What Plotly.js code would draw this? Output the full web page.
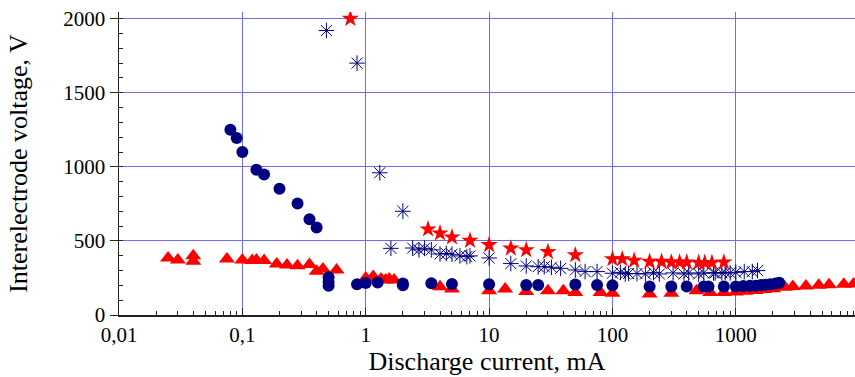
<!DOCTYPE html>
<html>
<head>
<meta charset="utf-8">
<script src="https://cdn.plot.ly/plotly-3.0.1.min.js"></script>
<style>html,body{margin:0;padding:0;background:#fff;}#chart{width:855px;height:377px;}</style>
</head>
<body>
<div id="chart"></div>
<script>
// Red triangles
const triX = [0.025,0.03,0.04,0.04,0.075,0.1,0.12,0.13,0.15,0.19,0.23,0.28,0.35,0.4,0.45,0.58,1.0,1.15,1.33,1.45,1.55,1.7,4,5,10,13.5,20,30,40,50,80,100,200,300,480,620,800,1000,1200,1450,1700,2000,2500,2900,3700,4700,5700,7500,9000];
const triY = [385,372,400,362,378,371,367,371,367,344,337,333,340,295,310,304,250,260,243,236,243,236,190,175,163,175,158,163,163,152,152,146,142,146,163,152,152,155,160,166,172,178,188,192,196,200,204,207,210];
// Navy circles
const cirX = [0.08,0.09,0.1,0.13,0.15,0.2,0.28,0.35,0.4,0.5,0.5,0.5,0.85,1.0,1.25,2,2,3.4,5,10,20,25,50,75,100,200,300,400,550,600,800,1000,1150,1300,1450,1600,1750,1900,2100,2250];
const cirY = [1250,1195,1100,980,948,852,752,646,590,255,222,198,207,216,220,213,200,214,209,207,203,203,206,203,200,193,192,192,192,192,192,193,195,197,198,202,205,208,213,218];
// Navy asterisks
const astX = [0.48,0.85,1.3,2,1.6,2.4,2.7,3,3.4,4,4.5,5,5.8,6.6,7,10,15,20,25,28,32,38,50,60,75,100,116,127,135,158,185,215,240,310,380,415,500,550,660,680,770,820,900,1000,1170,1360,1500];
const astY = [1920,1700,960,700,450,452,440,450,440,412,415,410,399,394,399,385,347,331,326,326,322,315,304,293,293,282,288,277,280,280,277,286,277,284,277,284,277,284,284,284,284,286,284,288,293,293,300];
// Red stars
const starX = [0.75,3.2,4,5,7,10,15,20,30,50,100,120,150,200,250,300,350,400,500,560,640,800];
const starY = [2000,579,552,525,502,473,450,439,426,405,378,378,367,360,360,356,356,356,353,353,353,356];
// Tick labels
const xTickVals = [0.01,0.1,1,10,100,1000];
const xTickText = ['0,01','0,1','1','10','100','1000'];
const yTickVals = [0,500,1000,1500,2000];
const yTickText = ['0','500','1000','1500','2000'];

const minorX = [];
for (let d = -2; d <= 3; d++) {
  for (let k = 2; k <= 9; k++) minorX.push(k * Math.pow(10, d));
}

const FONT = '"Liberation Serif", "Times New Roman", serif';
const NAVY = '#000080';
const RED = '#ff0000';

const traces = [
  {x: triX, y: triY, mode: 'markers', type: 'scatter',
   marker: {symbol: 'triangle-up', size: 14, color: RED}},
  {x: astX, y: astY, mode: 'markers', type: 'scatter',
   marker: {symbol: 'asterisk-open', size: 13, color: NAVY, line: {color: NAVY, width: 1}}},
  {x: starX, y: starY, mode: 'markers', type: 'scatter',
   marker: {symbol: 'star', size: 13, color: RED}},
  {x: cirX, y: cirY, mode: 'markers', type: 'scatter',
   marker: {symbol: 'circle', size: 12, color: NAVY}}
];

const layout = {
  width: 855, height: 377,
  margin: {l: 119, r: 0, t: 12, b: 62},
  paper_bgcolor: '#fff', plot_bgcolor: '#fff',
  showlegend: false,
  font: {family: FONT, color: '#000', size: 21},
  xaxis: {
    type: 'log', range: [-2, 3.966],
    tickmode: 'array', tickvals: xTickVals, ticktext: xTickText,
    ticks: 'inside', ticklen: 7, tickcolor: '#222', tickwidth: 1,
    showgrid: true, gridcolor: '#6c6cf2', gridwidth: 1,
    showline: true, linecolor: '#222', linewidth: 1.5,
    zeroline: false,
    tickfont: {family: FONT, size: 21, color: '#000'},
    minor: {tickmode: 'array', tickvals: minorX, ticks: 'inside', ticklen: 4, tickcolor: '#222', showgrid: false},
    title: {text: 'Discharge current, mA', font: {family: FONT, size: 26, color: '#000'}, standoff: 5},
    automargin: false
  },
  yaxis: {
    range: [0, 2045],
    tickmode: 'array', tickvals: yTickVals, ticktext: yTickText,
    ticks: 'outside', ticklen: 8, tickcolor: '#222', tickwidth: 1,
    showgrid: true, gridcolor: '#6c6cf2', gridwidth: 1,
    showline: true, linecolor: '#222', linewidth: 1.5,
    zeroline: false,
    tickfont: {family: FONT, size: 21, color: '#000'},
    minor: {dtick: 100, ticks: 'inside', ticklen: 4, tickcolor: '#222', showgrid: false},
    title: {text: 'Interelectrode voltage, V', font: {family: FONT, size: 26, color: '#000'}, standoff: 28},
    automargin: false
  }
};

Plotly.newPlot('chart', traces, layout, {displayModeBar: false, staticPlot: true});
</script>
</body>
</html>
